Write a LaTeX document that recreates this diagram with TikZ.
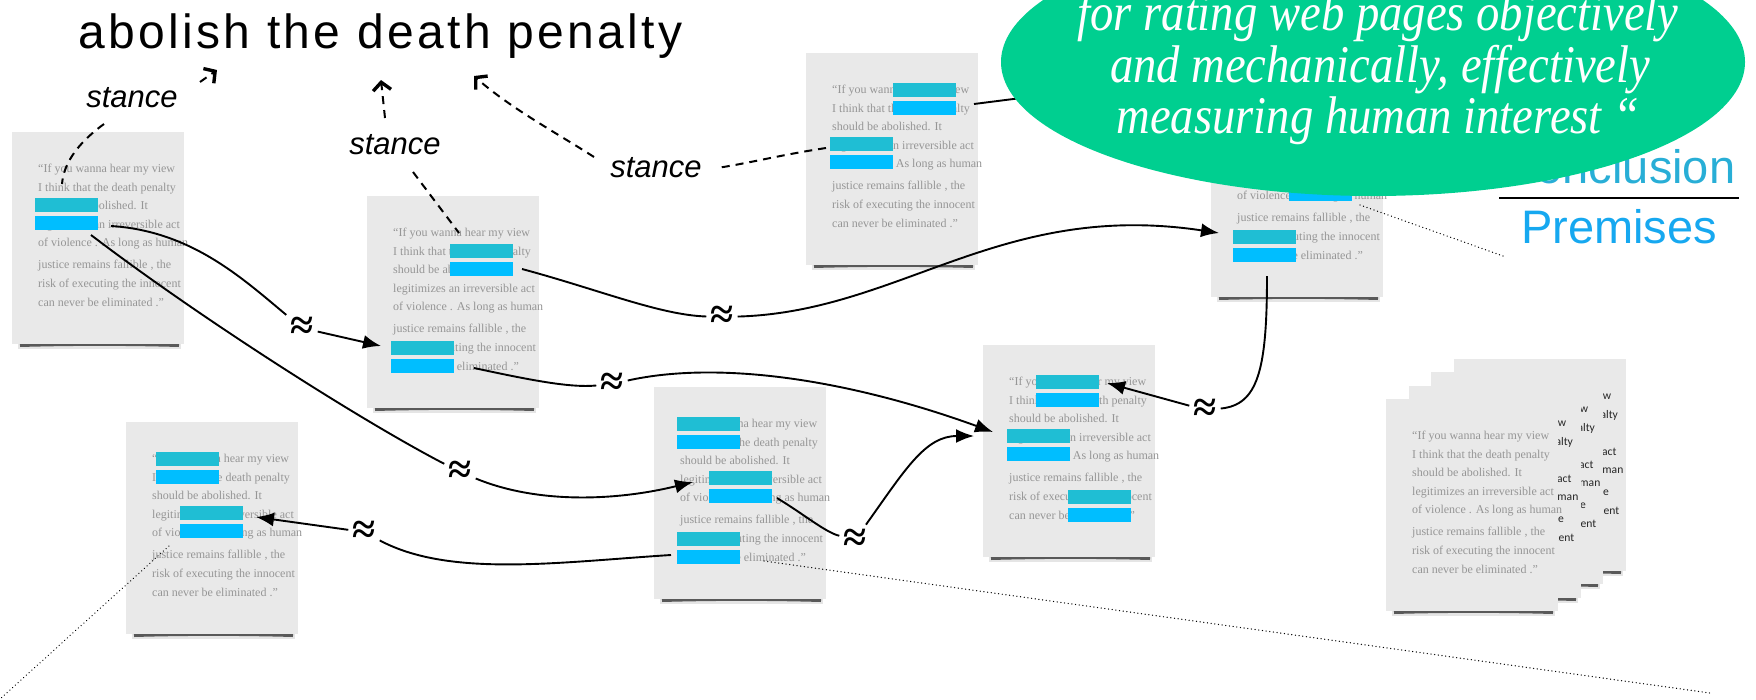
\documentclass[tikz,border=0pt]{standalone}
\usepackage{fontspec}
\setmainfont{Liberation Serif}
\newfontfamily\sansf{Liberation Sans}
\newfontfamily\titlef[LetterSpace=7]{Liberation Sans}
\newfontfamily\docf{Liberation Serif}
\newfontfamily\backf{Carlito}
\newfontfamily\ellf[FakeStretch=0.88]{Liberation Serif}
\usetikzlibrary{arrows.meta,calc}
\definecolor{docgray}{RGB}{233,233,233}
\definecolor{doctxt}{RGB}{150,150,150}
\definecolor{conc}{RGB}{31,190,212}
\definecolor{prem}{RGB}{0,190,255}
\definecolor{ellg}{RGB}{0,207,144}
\definecolor{conctxt}{RGB}{40,174,214}
\definecolor{premtxt}{RGB}{22,168,240}
\tikzset{
  docbox/.style={fill=docgray, minimum width=172pt, minimum height=212pt, inner sep=0pt},
  doctext/.style={anchor=base west, inner sep=0pt, text=doctxt, font=\docf\fontsize{12}{12}\selectfont},
  backtext/.style={anchor=base west, inner sep=0pt, text=black!85, font=\backf\fontsize{11.6}{11.6}\selectfont},
  hlc/.style={fill=conc, minimum width=63pt, minimum height=14pt, inner sep=0pt, anchor=north west},
  hlp/.style={fill=prem, minimum width=63pt, minimum height=14pt, inner sep=0pt, anchor=north west},
  link/.style={line width=1.9pt, black},
  linkarrow/.style={link, -{Latex[length=18pt,width=14pt]}},
  approx/.style={inner sep=4pt, font=\docf\bfseries\fontsize{42}{42}\selectfont},
  stancelink/.style={line width=2pt, dash pattern=on 8pt off 6pt},
  stancearrow/.style={stancelink, -{Straight Barb[length=8pt,width=18pt,line width=3.4pt]}},
  dotlink/.style={line width=1.3pt, dash pattern=on 0.1pt off 3.6pt, line cap=round},
  stancelabel/.style={font=\sansf\itshape\fontsize{31}{31}\selectfont, inner sep=0pt, anchor=base},
  elltext/.style={font=\ellf\itshape\fontsize{53}{53}\selectfont, text=white, anchor=base, inner sep=0pt},
  sidetext/.style={font=\sansf\fontsize{47}{47}\selectfont, anchor=base, inner sep=0pt},
}
\newcommand\docpage[4]{%
  \fill[black!40, opacity=.25] (#2+6,#3+207) rectangle (#2+169,#3+217);
  \draw[line width=3pt, black!65] (#2+8,#3+213.5) .. controls (#2+60,#3+212) and (#2+115,#3+212) .. (#2+167,#3+213.5);
  \node[docbox] (#1) at (#2+86,#3+106) {};
  \node[#4] (#1-a) at (#2+26,#3+40) {“If you wanna hear my view};
  \node[#4] (#1-b) at (#2+26,#3+59) {I think that the death penalty};
  \node[#4] (#1-c) at (#2+26,#3+77) {should be abolished. It};
  \node[#4] (#1-d) at (#2+26,#3+96) {legitimizes an irreversible act};
  \node[#4] (#1-e) at (#2+26,#3+114) {of violence . As long as human};
  \node[#4] (#1-f) at (#2+26,#3+136) {justice remains fallible , the};
  \node[#4] (#1-g) at (#2+26,#3+155) {risk of executing the innocent};
  \node[#4] (#1-h) at (#2+26,#3+174) {can never be eliminated .”};
}
\newcommand\hlpair[3]{%
  \node[hlc] (#1c) at (#2,#3-7) {};
  \node[hlp] (#1p) at (#2,#3+11) {};
}
\begin{document}
\begin{tikzpicture}[x=1pt,y=-1pt]
\useasboundingbox (0,0) rectangle (1756,699);
% documents
\docpage{D1}{12}{132}{doctext}
\docpage{D2}{367}{196}{doctext}
\docpage{D3}{806}{53}{doctext}
\docpage{D4}{1211}{85}{doctext}
\docpage{D5}{126}{422}{doctext}
\docpage{D6}{654}{387}{doctext}
\docpage{D7}{983}{345}{doctext}
\docpage{S4}{1454}{359}{backtext}
\docpage{S3}{1431}{372}{backtext}
\docpage{S2}{1409}{386}{backtext}
\docpage{S1}{1386}{399}{doctext}
% highlights
\hlpair{h1}{35}{205}
\hlpair{h2}{450}{251}
\hlpair{h3}{391}{348}
\hlpair{h4}{893}{90}
\hlpair{h5}{830}{144}
\hlpair{h6}{1289}{176}
\hlpair{h7}{1233}{237}
\hlpair{h8}{156}{459}
\hlpair{h9}{180}{513}
\hlpair{h10}{677}{424}
\hlpair{h11}{709}{478}
\hlpair{h12}{677}{539}
\hlpair{h13}{1036}{382}
\hlpair{h14}{1007}{436}
\hlpair{h15}{1068}{497}
% title and stances
\node[font=\titlef\fontsize{48}{48}\selectfont, anchor=base west, inner sep=0pt] (title) at (78,48) {abolish the death penalty};
\node[stancelabel] (st1) at (132,107) {stance};
\node[stancelabel] (st2) at (395,154) {stance};
\node[stancelabel] (st3) at (656,177) {stance};
% approx nodes
\node[approx] (A1) at (302,328) {≈};
\node[approx] (A2) at (460,472) {≈};
\node[approx] (A3) at (722,317) {≈};
\node[approx] (A4) at (612,384) {≈};
\node[approx] (A5) at (855,540) {≈};
\node[approx] (A6) at (364,532) {≈};
\node[approx] (A7) at (1205,410) {≈};
% connector ends
\coordinate (sa) at (111,226);
\coordinate (sb) at (91,235);
\coordinate (sc) at (522,269);
\coordinate (sd) at (474,368);
\coordinate (se) at (777,498);
\coordinate (sf) at (671,555);
\coordinate (sg) at (1267,276);
\coordinate (sh) at (974,104);
\coordinate (hx) at (1100,88);
\coordinate (ta) at (381,346);
\coordinate (tb) at (693,482);
\coordinate (tc) at (1219,233);
\coordinate (td) at (993,432);
\coordinate (te) at (974,436);
\coordinate (tf) at (256,517);
\coordinate (tg) at (1107,383);
% similarity links
\draw[link] (sa) .. controls (191,231) and (242,278) .. (A1);
\draw[linkarrow] (A1) -- (ta);
\draw[link] (sb) .. controls (200,318) and (360,420) .. (A2);
\draw[linkarrow] (A2) .. controls (540,505) and (620,500) .. (tb);
\draw[link] (sc) .. controls (600,290) and (660,315) .. (A3);
\draw[linkarrow] (A3) .. controls (900,312) and (1000,200) .. (tc);
\draw[link] (sd) .. controls (530,380) and (570,388) .. (A4);
\draw[linkarrow] (A4) .. controls (720,360) and (850,380) .. (td);
\draw[link] (se) .. controls (805,515) and (825,532) .. (A5);
\draw[linkarrow] (A5) .. controls (905,470) and (925,436) .. (te);
\draw[link] (sf) .. controls (560,562) and (450,578) .. (A6);
\draw[linkarrow] (A6) -- (tf);
\draw[link] (sg) .. controls (1267,370) and (1258,405) .. (A7);
\draw[linkarrow] (A7) -- (tg);
\draw[link] (sh) -- (hx);
% stance links
\coordinate (s1a) at (104,124);
\coordinate (s1b) at (62,184);
\coordinate (s1c) at (200,82);
\coordinate (s1d) at (217,70);
\coordinate (s2a) at (385,118);
\coordinate (s2b) at (381,80);
\coordinate (s2c) at (413,172);
\coordinate (s2d) at (459,233);
\coordinate (s3a) at (826,148);
\coordinate (s3b) at (717,168);
\coordinate (s3c) at (594,157);
\coordinate (s3d) at (474,76);
\draw[stancelink] (s1a) .. controls (82,140) and (64,160) .. (s1b);
\draw[stancearrow] (s1c) -- (s1d);
\draw[stancearrow] (s2a) -- (s2b);
\draw[stancelink] (s2c) -- (s2d);
\draw[stancelink] (s3a) .. controls (780,155) and (750,163) .. (s3b);
\draw[stancearrow] (s3c) .. controls (560,135) and (510,108) .. (s3d);
% dotted
\coordinate (d1a) at (1360,205);
\coordinate (d1b) at (1503,256);
\coordinate (d2a) at (764,561);
\coordinate (d2b) at (1710,693);
\coordinate (d3a) at (169,546);
\coordinate (d3b) at (0,699);
\draw[dotlink] (d1a) -- (d1b);
\draw[dotlink] (d2a) -- (d2b);
\draw[dotlink] (d3a) -- (d3b);
% conclusion / premises
\node[sidetext, text=conctxt] (concl) at (1619,183) {Conclusion};
\node[sidetext, text=premtxt] (prem) at (1619,243) {Premises};
\coordinate (bar1) at (1499,198);
\coordinate (bar2) at (1739,198);
\draw[line width=1.8pt] (bar1) -- (bar2);
% ellipse
\fill[ellg] (1373,62) ellipse [x radius=372pt, y radius=134pt];
\node[elltext] (e1) at (1378,30) {for rating web pages objectively};
\node[elltext] (e2) at (1380,82) {and mechanically, effectively};
\node[elltext] (e3) at (1378,133) {measuring human interest “};
\end{tikzpicture}
\end{document}
